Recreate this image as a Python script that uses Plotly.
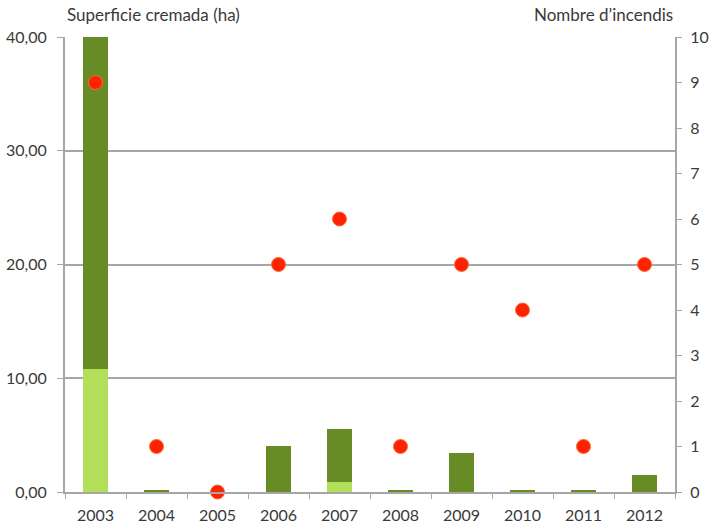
import plotly.graph_objects as go

years = ["2003", "2004", "2005", "2006", "2007", "2008", "2009", "2010", "2011", "2012"]
area_light = [10.8, 0, 0, 0, 0.85, 0, 0, 0, 0, 0]
area_dark = [29.2, 0.2, 0, 4.05, 4.7, 0.2, 3.43, 0.2, 0.2, 1.5]
fires = [9, 1, 0, 5, 6, 1, 5, 4, 1, 5]

FONT = "Lato, 'Open Sans', sans-serif"
TXT = "#3A3A3A"
GRID = "#A6A6A6"

fig = go.Figure()
fig.add_trace(go.Bar(x=years, y=area_light, marker=dict(color="#B3DE5A", line=dict(width=0)),
                     width=0.4, showlegend=False))
fig.add_trace(go.Bar(x=years, y=area_dark, marker=dict(color="#678B25", line=dict(width=0)),
                     width=0.4, showlegend=False))
fig.add_trace(go.Scatter(x=years, y=fires, yaxis="y2", mode="markers",
                         marker=dict(color="#FF2200", size=14, line=dict(color="#FF6A3A", width=1)),
                         showlegend=False, cliponaxis=False))

fig.update_layout(
    width=719, height=529,
    margin=dict(l=65, r=44, t=37, b=37),
    paper_bgcolor="white", plot_bgcolor="white",
    barmode="stack",
    separators=",.",
    font=dict(family=FONT, size=16, color=TXT),
    xaxis=dict(type="category", range=[-0.5, len(years) - 0.5], automargin=False,
               showline=True, linecolor=GRID, linewidth=2,
               ticks="outside", tickson="boundaries", ticklen=5, tickcolor=GRID,
               ticklabelstandoff=8,
               tickfont=dict(size=16, color=TXT), showgrid=False, zeroline=False),
    yaxis=dict(range=[0, 40], dtick=10, tickformat=".2f", automargin=False, showgrid=True,
               gridcolor=GRID, gridwidth=2, ticklabelstandoff=7,
               showline=True, linecolor=GRID, linewidth=2, ticks="outside", ticklen=6, tickcolor=GRID,
               zeroline=False, tickfont=dict(size=16, color=TXT)),
    yaxis2=dict(range=[0, 10], dtick=1, overlaying="y", side="right", automargin=False, showgrid=False,
                showline=True, linecolor=GRID, linewidth=2, ticks="outside", ticklen=5, tickcolor=GRID,
                ticklabelstandoff=5,
                zeroline=False, tickfont=dict(size=16, color=TXT)),
    annotations=[
        dict(text="Superficie cremada (ha)", xref="paper", yref="paper", x=0, y=1, yshift=23,
             xanchor="left", yanchor="middle", showarrow=False, font=dict(size=17, color=TXT)),
        dict(text="Nombre d\u2019incendis", xref="paper", yref="paper", x=1, y=1, yshift=23,
             xanchor="right", yanchor="middle", showarrow=False, font=dict(size=17, color=TXT)),
    ],
)

fig.write_html("out.html", config={"displayModeBar": False},
               post_script="document.body.style.margin='0';")
